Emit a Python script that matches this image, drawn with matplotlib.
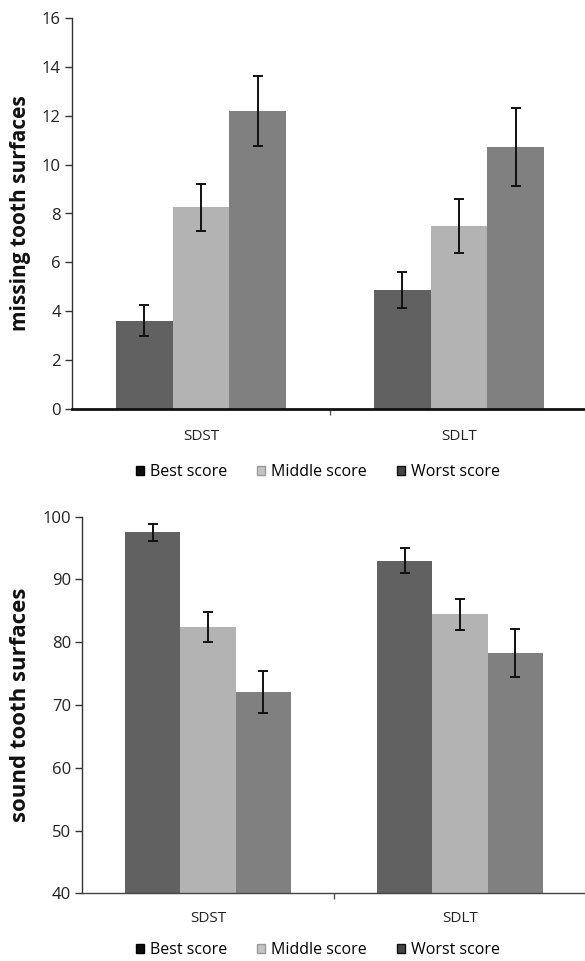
import matplotlib
matplotlib.use("Agg")
import matplotlib.pyplot as plt
from matplotlib.patches import Patch
import numpy as np

plt.rcParams['font.family'] = ['Open Sans', 'DejaVu Sans']

categories = ["SDST", "SDLT"]
series_names = ["Best score", "Middle score", "Worst score"]

missing_vals = [[3.62, 4.87], [8.25, 7.49], [12.2, 10.72]]
missing_err = [[0.65, 0.73], [0.97, 1.1], [1.42, 1.6]]

sound_vals = [[97.5, 93.0], [82.4, 84.45], [72.0, 78.3]]
sound_err = [[1.4, 1.95], [2.4, 2.5], [3.35, 3.85]]

bar_colors = ["#616161", "#b3b3b3", "#808080"]
legend_faces = ["#0d0d0d", "#c4c4c4", "#444444"]
legend_edges = ["#000000", "#9a9a9a", "#111111"]

fig = plt.figure(figsize=(5.85, 9.61), dpi=100)


def draw_panel(ax, vals, errs, ylim, yticks, ylabel, ylabel_size, spine_w,
               spine_c, label_pad, legend_y):
    x = np.arange(len(categories))
    w = 0.22
    for i, name in enumerate(series_names):
        ax.bar(x + (i - 1) * w, vals[i], w, color=bar_colors[i],
               edgecolor="none", zorder=2)
        ax.errorbar(x + (i - 1) * w, vals[i], yerr=errs[i], fmt="none",
                    ecolor="#111111", elinewidth=1.4, capsize=3.5,
                    capthick=1.4, zorder=3)
    ax.set_xlim(-0.5, 1.5)
    ax.set_ylim(*ylim)
    ax.set_yticks(yticks)
    ax.set_yticklabels([str(t) for t in yticks], fontsize=12, color="#222222")
    ax.tick_params(axis="y", length=5, width=1, color="#333333", pad=3)
    ax.set_xticks([0.5])
    ax.set_xticklabels([])
    ax.tick_params(axis="x", length=4, width=1, color="#555555")
    for s in ["top", "right"]:
        ax.spines[s].set_visible(False)
    ax.spines["left"].set_linewidth(1.0)
    ax.spines["left"].set_color("#333333")
    ax.spines["bottom"].set_linewidth(spine_w)
    ax.spines["bottom"].set_color(spine_c)
    for xi, c in zip(x, categories):
        ax.annotate(c, xy=(xi, 0), xycoords=("data", "axes fraction"),
                    xytext=(0, -label_pad), textcoords="offset pixels",
                    ha="center", va="center", fontsize=11, color="#222222")
    ax.set_ylabel(ylabel, fontsize=ylabel_size, fontweight="bold",
                  color="#111111", labelpad=8)
    handles = [Patch(facecolor=legend_faces[i], edgecolor=legend_edges[i],
                     label=series_names[i]) for i in range(3)]
    fig.legend(handles=handles, loc="center",
               bbox_to_anchor=(318 / 585, legend_y),
               ncol=3, frameon=False, fontsize=11.5, handlelength=0.5,
               handleheight=0.55, handletextpad=0.35, columnspacing=1.9)


ax1 = fig.add_axes([72 / 585, 1 - 409 / 961, 516 / 585, 391 / 961])
draw_panel(ax1, missing_vals, missing_err, (0, 16), list(range(0, 17, 2)),
           "missing tooth surfaces", 15, 2.0, "#111111", 28, 1 - 472 / 961)

ax2 = fig.add_axes([82 / 585, 1 - 893.3 / 961, 504 / 585, 376.6 / 961])
draw_panel(ax2, sound_vals, sound_err, (40, 100), list(range(40, 101, 10)),
           "sound tooth surfaces", 16, 1.0, "#444444", 25, 1 - 950 / 961)

fig.savefig("out.png", dpi=100)
